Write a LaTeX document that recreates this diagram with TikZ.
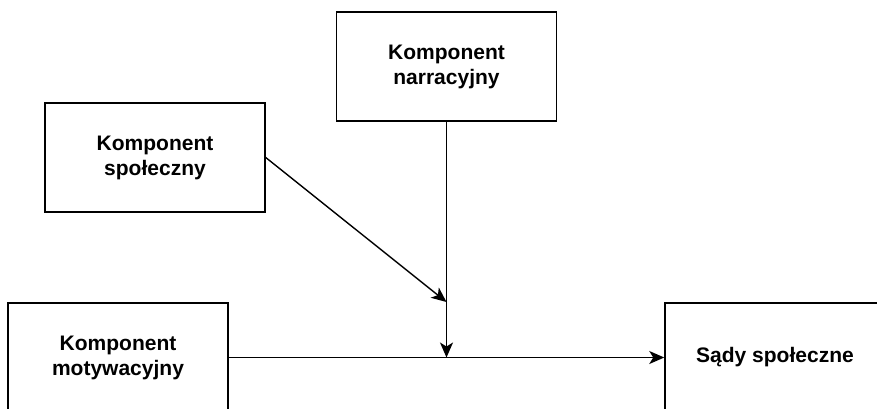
\documentclass[tikz,border=0pt]{standalone}
\usepackage{fontspec}
\setmainfont{Liberation Sans}
\usepackage{tikz}
\usetikzlibrary{arrows.meta}
\tikzstyle{box} = [rectangle, draw, line width=1.5pt, fill=white,
                 minimum width=220pt, minimum height=109pt, align=center,
                 font=\fontsize{21}{25}\selectfont\bfseries]
\tikzstyle{link} = [line width=1.4pt, draw, -{Stealth[length=15pt,width=13pt,inset=4pt]}]

\begin{document}
\begin{tikzpicture}[x=1pt,y=-1pt]

\path [use as bounding box, clip] (0,0) rectangle (877,408);

\node [box] at (446.5,66.5) (narr) {Komponent\\narracyjny};
\node [box] at (155,157.5) (spol) {Komponent\\społeczny};
\node [box] at (118,357.5) (mot) {Komponent\\motywacyjny};
\node [box] at (775,357.5) (sad) {Sądy społeczne};

%junctions on the vertical line
\coordinate (jspol) at (446.5,302);
\coordinate (jmot) at (narr.south |- mot.east);

\path [link] (spol.east) -- (jspol);
\path [link] (narr.south) -- (jmot);
\path [link] (mot.east) -- (sad.west);

\end{tikzpicture}
\end{document}
